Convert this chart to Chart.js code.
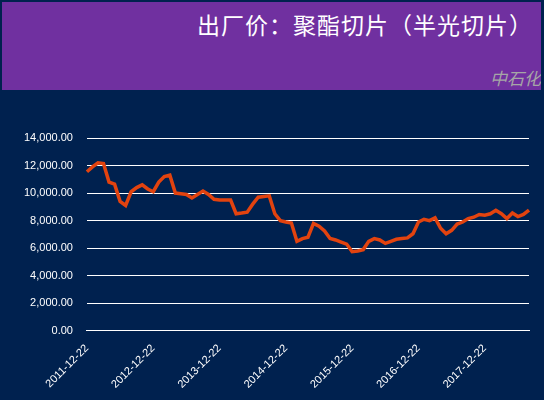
<!DOCTYPE html>
<html>
<head>
<meta charset="utf-8">
<script src="https://cdn.jsdelivr.net/npm/chart.js@4"></script>
<style>
  body { margin: 0; background: #00214f; width: 544px; height: 400px; overflow: hidden; position: relative; }
  #head { position: absolute; left: 2px; top: 2px; width: 539px; height: 88px; background: #7030a0; overflow: hidden; }
  #title { position: absolute; left: 195px; top: 5px; white-space: nowrap; color: #fff; font: 23px "Noto Sans CJK SC"; letter-spacing: 1px; }
  #src { position: absolute; left: 488px; top: 63px; white-space: nowrap; color: #a6a6a6; font: italic 17px "Noto Sans CJK SC"; }
  #c { position: absolute; left: 0; top: 0; }
</style>
</head>
<body>
<div id="head"><div id="title">出厂价：聚酯切片（半光切片）</div><div id="src">中石化</div></div>
<canvas id="c" width="544" height="400"></canvas>
<script>
const years = ["2011", "2012", "2013", "2014", "2015", "2016", "2017", "2018"];
const months = ["12", "01", "02", "03", "04", "05", "06", "07", "08", "09", "10", "11"];
const prices = [
  11550, 11900, 12200, 12150, 10800, 10650, 9400, 9100, 10100, 10400, 10600, 10300,
  10100, 10800, 11200, 11300, 10000, 9950, 9900, 9650, 9900, 10150, 9900, 9550,
  9500, 9500, 9500, 8500, 8550, 8620, 9200, 9700, 9750, 9800, 8500, 8000,
  7900, 7830, 6500, 6700, 6800, 7800, 7600, 7250, 6700, 6600, 6450, 6300,
  5750, 5800, 5900, 6500, 6700, 6600, 6350, 6500, 6650, 6700, 6750, 7050,
  7900, 8100, 8000, 8200, 7450, 7050, 7300, 7750, 7900, 8150, 8250, 8450,
  8400, 8500, 8750, 8500, 8150, 8550, 8300, 8450, 8770
];
const yTicks = [0, 2000, 4000, 6000, 8000, 10000, 12000, 14000];

const labels = prices.map((v, i) => {
  const y = years[Math.floor(i / 12)];
  return (i % 12 === 0 ? y : String(+y + 1)) + "-" + months[i % 12] + "-22";
});

new Chart(document.getElementById("c"), {
  type: "line",
  data: {
    labels: labels,
    datasets: [{
      data: prices,
      borderColor: "#e2430f",
      borderWidth: 3.5,
      pointRadius: 0,
      tension: 0
    }]
  },
  options: {
    responsive: false,
    animation: false,
    layout: { padding: { top: 138, right: 15, left: 10, bottom: 6 } },
    plugins: { legend: { display: false }, tooltip: { enabled: false } },
    scales: {
      x: {
        offset: false,
        grid: { display: false },
        border: { color: "#ffffff" },
        ticks: {
          color: "#ffffff", font: { size: 11, family: "Liberation Sans" },
          autoSkip: false, maxRotation: 45, minRotation: 45,
          callback: (v, i) => i % 12 === 0 ? labels[i] : null
        }
      },
      y: {
        min: 0, max: 14000,
        afterBuildTicks: ax => { ax.ticks = yTicks.map(v => ({ value: v })); },
        grid: { color: "#ffffff", drawTicks: false },
        border: { display: false },
        ticks: {
          color: "#ffffff", font: { size: 11, family: "Liberation Sans" }, padding: 14,
          callback: v => v.toLocaleString("en-US", { minimumFractionDigits: 2 })
        }
      }
    }
  }
});
</script>
</body>
</html>
